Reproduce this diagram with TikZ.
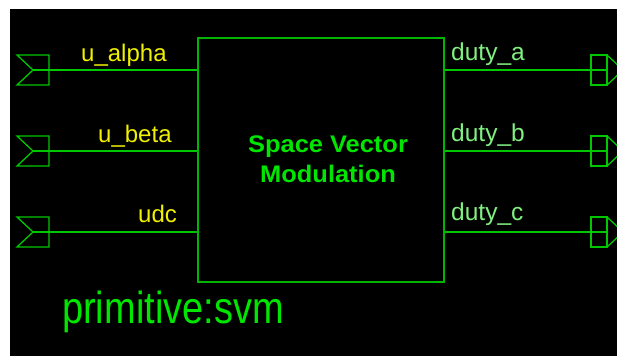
\documentclass[tikz,border=0pt]{standalone}
\usepackage{fontspec}
\setmainfont{Liberation Sans}
\usetikzlibrary{calc}
\definecolor{wirec}{RGB}{0,200,0}
\definecolor{boxc}{RGB}{0,180,0}
\definecolor{inlbl}{RGB}{240,240,0}
\definecolor{outlbl}{RGB}{128,240,128}
\definecolor{titlec}{RGB}{0,230,0}
\tikzset{
  wire/.style={draw=wirec, line width=1.5pt},
  portshape/.style={draw=wirec, line width=1.3pt, line join=miter},
  inlabel/.style={text=inlbl, font=\fontsize{24}{28}\selectfont, inner sep=0pt, anchor=base west},
  outlabel/.style={text=outlbl, font=\fontsize{24.5}{28}\selectfont, inner sep=0pt, anchor=base west},
}
\begin{document}
\begin{tikzpicture}[x=1pt,y=-1pt]
\useasboundingbox (0,0) rectangle (617,356);
\clip (0,0) rectangle (617,356);
\fill[white] (0,0) rectangle (617,356);
\fill[black] (10,9) rectangle (617,356);
% main block
\node[draw=boxc, line width=1.5pt, minimum width=246pt, minimum height=244pt, inner sep=0pt, anchor=north west] (svm) at (197,37) {};
\node[text=titlec, font=\bfseries\fontsize{24}{30}\selectfont, align=center] (title) at (328,159) {\scalebox{1.06}[1]{Space Vector}\\\scalebox{1.06}[1]{Modulation}};
% input ports
\coordinate (in1) at (33,70);
\coordinate (in2) at (33,151);
\coordinate (in3) at (33,232);
\foreach \p in {in1,in2,in3}{
  \draw[portshape] ($(\p)+(-16,-15)$) -- ++(32,0) -- ++(0,30) -- ++(-32,0) -- (\p) -- cycle;
}
\draw[wire] (in1) -- (svm.west |- in1);
\draw[wire] (in2) -- (svm.west |- in2);
\draw[wire] (in3) -- (svm.west |- in3);
% output ports
\coordinate (out1) at (607,70);
\coordinate (out2) at (607,151);
\coordinate (out3) at (607,232);
\foreach \p in {out1,out2,out3}{
  \draw[portshape] ($(\p)+(-16,-15)$) rectangle ($(\p)+(0,15)$);
  \draw[portshape] ($(\p)+(0,-15)$) -- ($(\p)+(16,0)$) -- ($(\p)+(0,15)$);
}
\draw[wire] (svm.east |- out1) -- (out1);
\draw[wire] (svm.east |- out2) -- (out2);
\draw[wire] (svm.east |- out3) -- (out3);
% labels
\node[inlabel] (la) at (81,61) {u\_alpha};
\node[inlabel] (lb) at (98,142) {u\_beta};
\node[inlabel] (lc) at (138,222) {udc};
\node[outlabel] (da) at (451,60) {duty\_a};
\node[outlabel] (db) at (451,141) {duty\_b};
\node[outlabel] (dc) at (451,220) {duty\_c};
\node[text=titlec, font=\fontsize{38}{44}\selectfont, inner sep=0pt, anchor=base west] (prim) at (62,323) {\scalebox{1}[1.18]{primitive:svm}};
\end{tikzpicture}
\end{document}
